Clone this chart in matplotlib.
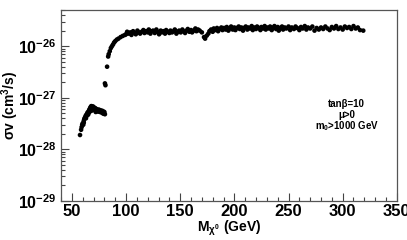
import matplotlib
matplotlib.use("Agg")
import matplotlib.pyplot as plt
import numpy as np

plt.rcParams['font.family'] = ['Liberation Sans', 'DejaVu Sans']
plt.rcParams['font.weight'] = 'bold'
plt.rcParams['mathtext.fontset'] = 'custom'
plt.rcParams['mathtext.rm'] = 'Liberation Sans:bold'
plt.rcParams['mathtext.it'] = 'Liberation Sans:bold'
plt.rcParams['mathtext.bf'] = 'Liberation Sans:bold'

# low-mass cluster (GeV, cm^3/s)
low_pts = [(57.5, 1.9e-28), (58.5, 2.4e-28), (59, 2.7e-28), (59.5, 3.0e-28), (60, 3.2e-28),
           (60.5, 3.0e-28), (61, 3.6e-28), (61.5, 3.9e-28), (62, 4.1e-28), (62.5, 4.3e-28),
           (63, 4.6e-28), (63.5, 4.4e-28), (64, 4.9e-28), (64.5, 5.2e-28), (65, 5.0e-28),
           (65.5, 5.5e-28), (66, 5.8e-28), (66.5, 6.1e-28), (67, 6.4e-28), (67.5, 6.7e-28),
           (68, 6.9e-28), (68.5, 6.6e-28), (69, 6.3e-28), (69.5, 6.8e-28), (70, 6.5e-28),
           (70.5, 6.1e-28), (71, 6.4e-28), (71.5, 5.9e-28), (72, 6.2e-28), (72.5, 5.7e-28),
           (73, 6.0e-28), (73.5, 5.5e-28), (74, 5.8e-28), (74.5, 5.4e-28), (75, 5.9e-28),
           (75.5, 5.6e-28), (76, 5.3e-28), (76.5, 5.7e-28), (77, 5.5e-28), (77.5, 5.2e-28),
           (78, 5.6e-28), (78.5, 5.0e-28), (79, 5.4e-28), (79.5, 4.9e-28), (80, 5.3e-28),
           (80.5, 4.8e-28), (66, 5.2e-28), (68, 5.6e-28), (70, 5.8e-28), (72, 5.3e-28),
           (63, 4.0e-28), (65, 4.7e-28), (61, 3.3e-28), (67, 5.9e-28)]

# steep rise near the Z/h pole
rise_pts = [(80.5, 1.9e-27), (81, 1.75e-27), (82.5, 4.0e-27), (83.5, 6.3e-27), (84, 7.0e-27),
            (85, 8.0e-27), (86, 9.2e-27), (87, 1.0e-26), (88, 1.08e-26), (89, 1.18e-26),
            (90, 1.25e-26), (91.5, 1.34e-26), (93, 1.4e-26), (95, 1.5e-26), (97, 1.58e-26),
            (99, 1.65e-26)]

# high-mass band (units 1e-26)
band_pts = [(100, 1.7), (101, 1.9), (102.5, 1.75), (104, 1.85), (105, 1.65), (106.5, 1.95),
            (108, 1.8), (109, 1.7), (110.5, 2.0), (112, 1.85), (113, 1.75), (114.5, 1.9),
            (116, 2.05), (117, 1.8), (118.5, 1.95), (120, 1.85), (121, 2.1), (122.5, 1.75),
            (124, 1.95), (125, 2.0), (126.5, 1.8), (128, 2.1), (129, 1.9), (130.5, 1.7),
            (132, 2.0), (133, 1.85), (134.5, 1.95), (136, 1.75), (137, 2.05), (138.5, 1.9),
            (140, 1.8), (141, 2.0), (142.5, 1.85), (144, 1.95), (145, 2.1), (146.5, 1.75),
            (148, 1.9), (149, 2.0), (150.5, 1.85), (152, 2.1), (153, 1.95), (154.5, 1.8),
            (156, 2.0), (157, 2.15), (158.5, 1.9), (160, 2.05), (161, 1.85), (162.5, 2.0),
            (164, 2.2), (165, 1.95), (166.5, 2.1), (168, 2.0), (170, 1.85), (172, 1.5),
            (173, 1.4), (174.5, 1.6), (176, 1.75), (177, 1.95), (178.5, 2.1), (180, 1.9),
            (181, 2.2), (182.5, 2.05), (184, 2.25), (185, 1.95), (186.5, 2.15), (188, 2.3),
            (189, 2.05), (190.5, 2.25), (192, 2.1), (193, 2.35), (194.5, 2.0), (196, 2.2),
            (197, 2.4), (198.5, 2.1), (200, 2.3), (201, 2.05), (202.5, 2.25), (204, 2.4),
            (205, 2.15), (206.5, 2.3), (208, 2.0), (209, 2.25), (210.5, 2.4), (212, 2.1),
            (213, 2.3), (214.5, 2.2), (216, 2.45), (217, 2.05), (218.5, 2.3), (220, 2.15),
            (221, 2.4), (222.5, 2.25), (224, 2.05), (225, 2.35), (226.5, 2.2), (228, 2.45),
            (229, 2.1), (230.5, 2.3), (232, 2.2), (233, 2.4), (234.5, 2.05), (236, 2.3),
            (237, 2.45), (238.5, 2.15), (240, 2.35), (241, 2.0), (242.5, 2.25), (244, 2.4),
            (245, 2.1), (246.5, 2.3), (248, 2.2), (250, 2.4), (251.5, 2.05), (253, 2.3),
            (255, 2.15), (256.5, 2.4), (258, 2.25), (260, 2.05), (261.5, 2.35), (263, 2.2),
            (265, 2.45), (266.5, 2.1), (268, 2.3), (270, 2.2), (272, 2.4), (274, 2.0),
            (276, 2.25), (278, 2.1), (280, 2.3), (282, 2.15), (284, 2.4), (286, 2.2),
            (288, 2.05), (290, 2.35), (292, 2.2), (294, 2.45), (296, 2.15), (298, 2.3),
            (300, 2.1), (302, 2.4), (304, 2.25), (306, 2.35), (308, 2.15), (310, 2.45),
            (312, 2.2), (314, 2.3), (316, 2.05), (319, 2.0)]

x_ticks = [50, 100, 150, 200, 250, 300, 350]
y_ticks = [1e-29, 1e-28, 1e-27, 1e-26]
y_labels = ['$10^{-29}$', '$10^{-28}$', '$10^{-27}$', '$10^{-26}$']
notes = ['tanβ=10', 'μ>0', 'm$_0$>1000 GeV']

lx, ly = np.array(low_pts).T
rx, ry = np.array(rise_pts).T
bx, by = np.array(band_pts).T
by = by * 1e-26

fig = plt.figure(figsize=(4.07, 2.4), dpi=100)
ax = fig.add_axes([0.150, 0.1625, 0.825, 0.7955])

for xs, ys in [(lx, ly), (rx, ry), (bx, by)]:
    ax.scatter(xs, ys, s=11, c='black', edgecolors='none')

ax.set_yscale('log')
ax.set_xlim(40, 350)
ax.set_ylim(1e-29, 5e-26)

ax.set_xticks(x_ticks)
ax.set_xticks(np.arange(40, 351, 10), minor=True)
ax.set_yticks(y_ticks)
ax.set_yticklabels(y_labels)
ax.yaxis.set_minor_locator(matplotlib.ticker.LogLocator(base=10, subs=np.arange(2, 10)))
ax.yaxis.set_minor_formatter(matplotlib.ticker.NullFormatter())

ax.tick_params(which='both', direction='in', top=False, right=False, width=0.8, color='#444444')
ax.tick_params(axis='x', labelsize=12, pad=2)
ax.tick_params(axis='y', labelsize=11.5, pad=3)
ax.tick_params(which='major', length=6)
ax.tick_params(which='minor', length=3)
for lab in ax.get_xticklabels():
    lab.set_fontweight('bold')

for sp in ax.spines.values():
    sp.set_color('#555555')
    sp.set_linewidth(0.9)

ax.set_xlabel(r'M$_{\chi^0}$ (GeV)', fontsize=10, fontweight='bold', labelpad=0)
ax.set_ylabel(r'$\sigma$v (cm$^3$/s)', fontsize=10, fontweight='bold')
ax.yaxis.set_label_coords(-0.118, 0.5)

for i, t in enumerate(notes):
    ax.text(0.851, 0.51 - i * 0.058, t, transform=ax.transAxes, ha='center', va='center',
            fontsize=7, fontweight='bold')

fig.savefig('out.png', dpi=100)
